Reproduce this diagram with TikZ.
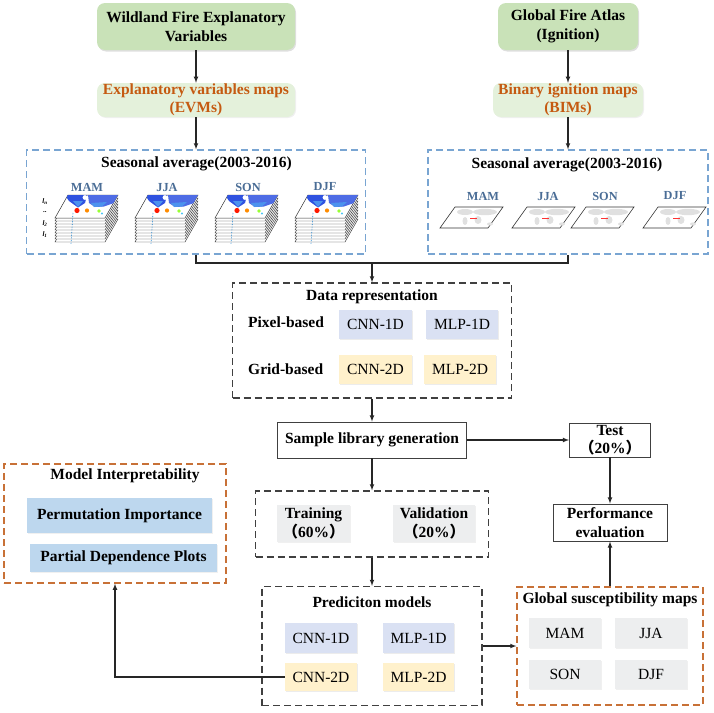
\documentclass[tikz,border=0pt]{standalone}
\usepackage{fontspec}
\setmainfont{Liberation Serif}
\newfontfamily\cjk{Noto Sans CJK SC}
\usetikzlibrary{arrows,shadows}
\definecolor{srcgreen}{HTML}{C9E2B8}
\definecolor{mapgreen}{HTML}{E4F1DB}
\definecolor{maporange}{HTML}{C55A11}
\definecolor{seasblue}{HTML}{79A5D2}
\definecolor{seastext}{HTML}{4A6D96}
\definecolor{boxorange}{HTML}{C87137}
\definecolor{boxgray}{HTML}{404040}
\definecolor{oneD}{HTML}{DAE1F3}
\definecolor{twoD}{HTML}{FFF1CC}
\definecolor{lightgray}{HTML}{EDEEEF}
\definecolor{interblue}{HTML}{BDD7EE}
\definecolor{landblue}{HTML}{2F52E0}
\definecolor{landsky}{HTML}{4C93EE}
\newcommand{\fwl}{{\cjk （}}
\newcommand{\fwr}{{\cjk ）}}

\begin{document}
\begin{tikzpicture}[x=1pt,y=-1pt,
  every node/.style={font=\fontsize{15.5}{18.5}\selectfont,inner sep=0pt,align=center},
  srcbox/.style={fill=srcgreen,rounded corners=8pt,font=\fontsize{15.5}{18.5}\selectfont\bfseries,
    drop shadow={opacity=0.25,shadow xshift=1pt,shadow yshift=-1.5pt}},
  mapbox/.style={fill=mapgreen,rounded corners=8pt,text=maporange,font=\fontsize{15.5}{18.5}\selectfont\bfseries,
    drop shadow={opacity=0.12,shadow xshift=1pt,shadow yshift=-1pt}},
  seasbox/.style={draw=seasblue,line width=1.3pt,dash pattern=on 7pt off 4pt},
  orangebox/.style={draw=boxorange,line width=1.3pt,dash pattern=on 7pt off 4pt},
  blackbox/.style={draw=boxgray,line width=1.3pt,dash pattern=on 7pt off 4pt},
  plainbox/.style={draw=boxgray,line width=0.9pt,font=\fontsize{15.5}{18.5}\selectfont\bfseries},
  title/.style={font=\fontsize{15.5}{18.5}\selectfont\bfseries},
  season/.style={text=seastext,font=\fontsize{12.3}{14}\selectfont\bfseries},
  layer/.style={font=\fontsize{7}{8}\selectfont\bfseries\itshape},
  model/.style={minimum width=72,minimum height=29,
    drop shadow={opacity=0.15,shadow xshift=1pt,shadow yshift=-1pt}},
  grey/.style={fill=lightgray,minimum width=72,minimum height=30,
    drop shadow={opacity=0.12,shadow xshift=1pt,shadow yshift=-1pt}},
  link/.style={line width=1.1pt,black!85},
  ]

  \useasboundingbox (0,0) rectangle (714,712);

  % sources
  \node[srcbox,minimum width=198,minimum height=47] (wfev) at (196,26.5) {Wildland Fire Explanatory\\Variables};
  \node[srcbox,minimum width=140,minimum height=47] (gfa) at (568,26.5) {Global Fire Atlas\\(Ignition)};
  \node[mapbox,minimum width=198,minimum height=34] (evm) at (196,100) {Explanatory variables maps\\(EVMs)};
  \node[mapbox,minimum width=150,minimum height=34] (bim) at (568,100) {Binary ignition maps\\(BIMs)};

  % seasonal averages
  \node[seasbox,minimum width=339,minimum height=104] (seasl) at (196,202) {};
  \node[seasbox,minimum width=280,minimum height=104] (seasr) at (568,202) {};
  \node[title] (seasltitle) at (196.5,164) {Seasonal average(2003-2016)};
  \node[title] (seasrtitle) at (567,165) {Seasonal average(2003-2016)};
  \node[season] (mamL) at (87,187) {MAM};
  \node[season] (jjaL) at (167,187) {JJA};
  \node[season] (sonL) at (248,187) {SON};
  \node[season] (djfL) at (325,187) {DJF};
  \node[season] (mamR) at (483,196) {MAM};
  \node[season] (jjaR) at (548,196) {JJA};
  \node[season] (sonR) at (605,196) {SON};
  \node[season] (djfR) at (675,196) {DJF};
  \node[layer] (ln) at (45,202) {l\textsubscript{n}};
  \node[layer] (ldots) at (45,212) {..};
  \node[layer] (ltwo) at (45,224) {l\textsubscript{2}};
  \node[layer] (lone) at (45,235) {l\textsubscript{1}};

  % stacks of variable maps
  \foreach \sx in {55,135,215,295} {
    \foreach \k in {8,7,...,1}
      \filldraw[fill=white,draw=black!80,line width=0.45pt]
        (\sx,{218+3*\k}) -- ({\sx+13},{195+3*\k}) -- ({\sx+63},{195+3*\k}) -- ({\sx+50},{218+3*\k}) -- cycle;
    \filldraw[fill=white,draw=black!80,line width=0.5pt]
      (\sx,218) -- ({\sx+13},195) -- ({\sx+63},195) -- ({\sx+50},218) -- cycle;
    \begin{scope}
      \clip (\sx,218) -- ({\sx+13},195) -- ({\sx+63},195) -- ({\sx+50},218) -- cycle;
      \fill[landblue] ({\sx+10},195) -- ({\sx+32},195) -- ({\sx+30},203) -- ({\sx+23},207.5) -- ({\sx+14},201) -- cycle; % america
      \fill[landblue!85] ({\sx+33},195) -- ({\sx+64},195) -- ({\sx+59},203) -- ({\sx+49},206.5) -- ({\sx+40},207) -- ({\sx+34},203) -- cycle; % eurasia
      \fill[landsky] ({\sx+36},203) -- ({\sx+52},202) -- ({\sx+47},206.5) -- ({\sx+39},207) -- cycle;
      \fill[landsky] ({\sx+18},201) -- ({\sx+28},201) -- ({\sx+23},207) -- cycle;
      \fill[white] ({\sx+30},197.5) circle (2.4);
      \fill[red!80!orange] ({\sx+22},210.5) circle (2.6);
      \fill[orange!90!yellow] ({\sx+32},210.5) circle (2.1);
      \fill[green!50!yellow!80] ({\sx+44},211) circle (1.8);
      \fill[cyan!70] ({\sx+47},213.5) circle (1.2);
    \end{scope}
    \draw[cyan!60!blue,densely dotted,line width=0.6pt] ({\sx+18},213) -- ({\sx+16},244);
  }

  % binary ignition maps
  \foreach \mx in {440,512,571,643} {
    \draw[black!80,line width=0.6pt] (\mx,228) -- ({\mx+15},207) -- ({\mx+63},207) -- ({\mx+48},228) -- cycle;
    \fill[black!12] ({\mx+25},212) ellipse (8 and 3);
    \fill[black!12] ({\mx+45},212) ellipse (12 and 3.2);
    \fill[black!12] ({\mx+25},221) ellipse (2.5 and 4);
    \fill[black!12] ({\mx+38},220) ellipse (3.5 and 4);
    \fill[black!12] ({\mx+50},224) ellipse (3 and 1.6);
    \fill[red!80] ({\mx+30},217.5) rectangle ({\mx+37},219);
  }

  % data representation
  \node[blackbox,minimum width=279,minimum height=115] (datarep) at (372,340.5) {};
  \node[title] (datatitle) at (372,297) {Data representation};
  \node[title,anchor=west] (pix) at (248,322) {Pixel-based};
  \node[title,anchor=west] (grid) at (248,369) {Grid-based};
  \node[model,fill=oneD,minimum width=73] (cnnA) at (375.5,324.5) {CNN-1D};
  \node[model,fill=oneD] (mlpA) at (462,324.5) {MLP-1D};
  \node[model,fill=twoD,minimum width=73] (cnnB) at (375.5,369.5) {CNN-2D};
  \node[model,fill=twoD] (mlpB) at (460,369.5) {MLP-2D};

  % samples
  \node[plainbox,minimum width=189,minimum height=36] (sample) at (372,440) {Sample library generation};
  \node[plainbox,minimum width=81,minimum height=34] (test) at (610,440) {Test\\\fwl 20\%\fwr};
  \node[plainbox,minimum width=114,minimum height=37] (perf) at (610,522.5) {Performance\\evaluation};
  \node[blackbox,minimum width=233,minimum height=66] (tv) at (372,524) {};
  \node[grey,font=\fontsize{15.5}{18.5}\selectfont\bfseries,minimum width=73,minimum height=37] (train) at (313.5,523.5) {Training\\\fwl 60\%\fwr};
  \node[grey,font=\fontsize{15.5}{18.5}\selectfont\bfseries,minimum width=82,minimum height=37] (valid) at (434,523.5) {Validation\\\fwl 20\%\fwr};

  % prediction models
  \node[blackbox,minimum width=220,minimum height=119] (pred) at (372,646) {};
  \node[title] (predtitle) at (372,602) {Prediciton models};
  \node[model,fill=oneD,minimum height=30] (cnnC) at (321,638) {CNN-1D};
  \node[model,fill=oneD,minimum width=71,minimum height=30] (mlpC) at (418.5,638) {MLP-1D};
  \node[model,fill=twoD,minimum height=28] (cnnD) at (321,677) {CNN-2D};
  \node[model,fill=twoD,minimum width=71,minimum height=28] (mlpD) at (418.5,677) {MLP-2D};

  % susceptibility maps
  \node[orangebox,minimum width=186,minimum height=118] (gsm) at (610,646) {};
  \node[title] (gsmtitle) at (610,600) {Global susceptibility maps};
  \node[grey] (mam) at (565,633) {MAM};
  \node[grey] (jja) at (651,633) {JJA};
  \node[grey,minimum height=29] (son) at (565,674.5) {SON};
  \node[grey,minimum height=29] (djf) at (651,674.5) {DJF};

  % interpretability
  \node[orangebox,minimum width=222,minimum height=119] (mi) at (115,523.5) {};
  \node[title] (mititle) at (125,476) {Model Interpretability};
  \node[title,fill=interblue,minimum width=185,minimum height=35,
    drop shadow={opacity=0.12,shadow xshift=1pt,shadow yshift=-1pt}] (perm) at (119.5,515.5) {Permutation Importance};
  \node[title,fill=interblue,minimum width=187,minimum height=28,
    drop shadow={opacity=0.12,shadow xshift=1pt,shadow yshift=-1pt}] (pdp) at (123.5,558) {Partial Dependence Plots};

  % connectors
  \coordinate (jn) at (372,263);
  \draw[link,-latex] (wfev) -- (evm);
  \draw[link,-latex] (gfa) -- (bim);
  \draw[link,-latex] (evm) -- (seasl);
  \draw[link,-latex] (bim) -- (seasr);
  \draw[link] (seasl.south) |- (jn) -| (seasr.south);
  \draw[link,-latex] (jn) -- (datarep.north);
  \draw[link,-latex] (datarep) -- (sample);
  \draw[link,-latex] (sample) -- (test);
  \draw[link,-latex] (test) -- (perf);
  \draw[link,-latex] (sample) -- (tv);
  \draw[link,-latex] (tv) -- (pred);
  \draw[link,-latex] (pred.east) -- (gsm.west);
  \draw[link,-latex] (gsm) -- (perf);
  \draw[link,-latex] (cnnD.west) -| (mi.south);

\end{tikzpicture}
\end{document}
